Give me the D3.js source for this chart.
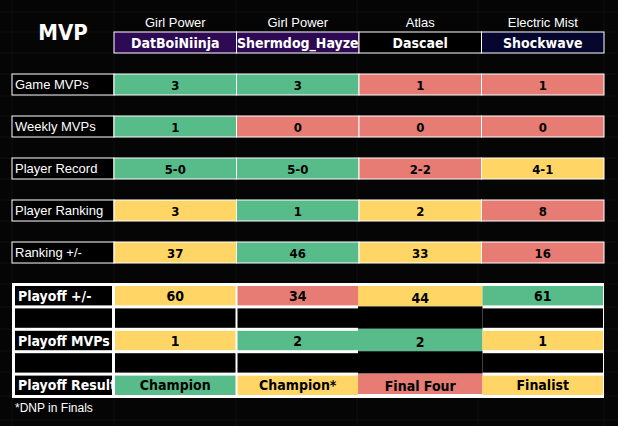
<!DOCTYPE html>
<html><head><meta charset="utf-8">
<script src="https://cdn.jsdelivr.net/npm/d3@7"></script>
<style>body{margin:0;background:#050505}</style>
</head><body><svg id="c" width="618" height="426"></svg>
<script>
var teams = ["Girl Power", "Girl Power", "Atlas", "Electric Mist"];
var players = ["DatBoiNiinja", "Shermdog_Hayze", "Dascael", "Shockwave"];
var playerFill = ["#2e0a54", "#2e0a54", "#000000", "#06062e"];
var statLabels = ["Game MVPs", "Weekly MVPs", "Player Record", "Player Ranking", "Ranking +/-"];
var statValues = [["3","3","1","1"], ["1","0","0","0"], ["5-0","5-0","2-2","4-1"], ["3","1","2","8"], ["37","46","33","16"]];
var statColors = [["g","g","r","r"], ["g","r","r","r"], ["g","g","r","y"], ["y","g","y","r"], ["y","g","y","r"]];
var playoffLabels = ["Playoff +/-", "", "Playoff MVPs", "", "Playoff Result"];
var playoffValues = [["60","34","44","61"], ["","","",""], ["1","2","2","1"], ["","","",""], ["Champion","Champion*","Final Four","Finalist"]];
var playoffColors = [["y","r","y","g"], ["k","k","k","k"], ["y","g","g","y"], ["k","k","k","k"], ["g","y","r","y"]];
var pal = {g:"#57bb8a", r:"#e67c73", y:"#ffd666", k:"#000000"};

var svg = d3.select("#c");
var x = d3.scaleBand().domain(d3.range(4)).range([114, 604]);
var labX = 12, labW = 102;
var narrow = "'DejaVu Sans Condensed','Liberation Sans Narrow','Liberation Sans',Arial,sans-serif";
var plain = "'Liberation Sans',Arial,sans-serif";

// faint spreadsheet grid
var gx = [12, 114, 236, 357, 478, 604], gy = [12, 32, 53, 74, 96, 116, 137, 158, 179, 200, 221, 242, 263, 284, 307, 329, 351, 372, 396, 420];
svg.selectAll("line.gv").data(gx).enter().append("line").attr("x1", d => d).attr("x2", d => d)
  .attr("y1", 0).attr("y2", 426).attr("stroke", "#111");
svg.selectAll("line.gh").data(gy).enter().append("line").attr("y1", d => d).attr("y2", d => d)
  .attr("x1", 0).attr("x2", 618).attr("stroke", "#111");

// header
svg.append("text").attr("x", 63).attr("y", 40).attr("text-anchor", "middle").attr("fill", "#fff")
  .style("font", "bold 22px " + narrow).text("MVP");
svg.selectAll("text.team").data(teams).enter().append("text")
  .attr("x", (d, i) => x(i) + x.bandwidth() / 2).attr("y", 27).attr("text-anchor", "middle")
  .attr("fill", "#fff").style("font", "13px " + plain).text(d => d);
svg.selectAll("rect.pl").data(players).enter().append("rect")
  .attr("x", (d, i) => x(i)).attr("y", 32).attr("width", x.bandwidth()).attr("height", 21)
  .attr("fill", (d, i) => playerFill[i]).attr("stroke", "#fff").attr("stroke-width", 1);
svg.selectAll("text.pl").data(players).enter().append("text")
  .attr("x", (d, i) => x(i) + x.bandwidth() / 2).attr("y", 48).attr("text-anchor", "middle")
  .attr("fill", "#fff").style("font", "bold 14px " + narrow).text(d => d);

// stat rows
var yStat = d3.scalePoint().domain(d3.range(statLabels.length)).range([74, 242]);
statLabels.forEach(function(lab, r) {
  var g = svg.append("g").attr("transform", "translate(0," + yStat(r) + ")");
  g.append("rect").attr("x", labX).attr("width", labW).attr("height", 21)
    .attr("fill", "#000").attr("stroke", "#fff");
  g.append("text").attr("x", labX + 3).attr("y", 15).attr("fill", "#fff")
    .style("font", "13px " + plain).text(lab);
  g.selectAll("rect.v").data(statValues[r]).enter().append("rect")
    .attr("x", (d, i) => x(i)).attr("width", x.bandwidth()).attr("height", 21)
    .attr("fill", (d, i) => pal[statColors[r][i]]).attr("stroke", "#fff");
  g.selectAll("text.v").data(statValues[r]).enter().append("text")
    .attr("x", (d, i) => x(i) + x.bandwidth() / 2).attr("y", 15.5).attr("text-anchor", "middle")
    .attr("fill", "#000").style("font", "bold 13px " + narrow).text(d => d);
});

// playoff block
var yPo = d3.scaleBand().domain(d3.range(playoffLabels.length)).range([284, 396]);
svg.append("rect").attr("x", 12).attr("y", 283).attr("width", 592).attr("height", 115).attr("fill", "#fff");
var atlasCol = 2;
svg.append("rect").attr("x", x(atlasCol)).attr("y", 286).attr("width", x.bandwidth()).attr("height", 109).attr("fill", "#fff");
playoffLabels.forEach(function(lab, r) {
  var y0 = yPo(r) + 2, h = yPo.bandwidth() - 3;
  svg.append("rect").attr("x", labX + 3).attr("y", y0).attr("width", labW - 5).attr("height", h).attr("fill", "#000");
  svg.append("text").attr("x", labX + 6).attr("y", y0 + h / 2 + 5).attr("fill", "#fff")
    .style("font", "bold 14px " + narrow).text(lab);
  playoffValues[r].forEach(function(v, i) {
    var isA = i === atlasCol;
    var xx = isA ? x(i) - 1 : x(i) + 1, w = isA ? x.bandwidth() + 2 : x.bandwidth() - 2;
    var yy = isA ? yPo(r) + (r === 0 ? 2 : 0) : y0, hh = isA ? yPo.bandwidth() - (r === 0 ? 2 : 0) - (r === 4 ? 2 : 0) : h;
    svg.append("rect").attr("x", xx).attr("y", yy).attr("width", w).attr("height", hh).attr("fill", pal[playoffColors[r][i]]);
    svg.append("text").attr("x", x(i) + x.bandwidth() / 2).attr("y", yy + hh / 2 + 5 + (isA ? 2 : 0))
      .attr("text-anchor", "middle").attr("fill", "#000").style("font", "bold 14px " + narrow).text(v);
  });
});
svg.append("text").attr("x", 15).attr("y", 412).attr("fill", "#fff")
  .style("font", "12px " + plain).text("*DNP in Finals");
</script></body></html>
